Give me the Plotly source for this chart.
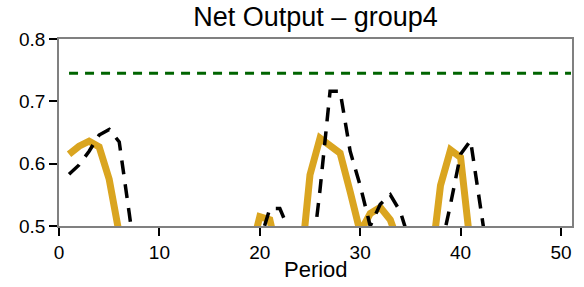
import plotly.graph_objects as go

periods = list(range(1, 51))

actual = [0.615, 0.628, 0.636, 0.627, 0.575, 0.44, 0.40, 0.38, 0.36, 0.35,
          0.34, 0.35, 0.36, 0.37, 0.36, 0.38, 0.39, 0.40, 0.45, 0.515,
          0.51, 0.44, 0.40, 0.42, 0.582, 0.641, 0.630, 0.617, 0.555, 0.49,
          0.52, 0.53, 0.51, 0.46, 0.42, 0.40, 0.43, 0.565, 0.622, 0.61,
          0.465, 0.42, 0.40, 0.38, 0.37, 0.36, 0.35, 0.36, 0.37, 0.38]

forecast = [0.583, 0.598, 0.62, 0.646, 0.655, 0.635, 0.52, 0.40, 0.38, 0.37,
            0.36, 0.36, 0.37, 0.38, 0.38, 0.39, 0.40, 0.41, 0.42, 0.475,
            0.528, 0.528, 0.49, 0.42, 0.42, 0.558, 0.716, 0.716, 0.62, 0.565,
            0.50, 0.535, 0.55, 0.523, 0.47, 0.42, 0.40, 0.46, 0.535, 0.615,
            0.637, 0.51, 0.42, 0.40, 0.39, 0.38, 0.37, 0.37, 0.38, 0.39]

threshold_x = [1, 51]
threshold_y = [0.745, 0.745]

x_ticks = [0, 10, 20, 30, 40, 50]
y_ticks = [0.5, 0.6, 0.7, 0.8]

fig = go.Figure()
fig.add_trace(go.Scatter(x=threshold_x, y=threshold_y, mode="lines",
                         line=dict(color="#006400", width=3, dash="9px,7px"),
                         showlegend=False, hoverinfo="skip"))
fig.add_trace(go.Scatter(x=periods, y=actual, mode="lines",
                         line=dict(color="#DAA520", width=7),
                         showlegend=False))
fig.add_trace(go.Scatter(x=periods, y=forecast, mode="lines",
                         line=dict(color="black", width=3.5, dash="14px,10px"),
                         showlegend=False))

font_family = "Liberation Sans, Arial, sans-serif"
fig.update_layout(
    width=584, height=287,
    margin=dict(l=59, r=12, t=39, b=61, autoexpand=False),
    paper_bgcolor="white", plot_bgcolor="white",
    font=dict(family=font_family, color="black", size=19),
    title=dict(text="Net Output – group4", x=0.5, xref="paper",
               y=1 - 17 / 287, yref="container", yanchor="middle",
               xanchor="center", font=dict(size=27, color="black")),
    annotations=[dict(text="Period", xref="paper", yref="paper", x=0.5,
                      y=-(269 - 226) / 187, xanchor="center", yanchor="middle",
                      showarrow=False, font=dict(size=22, color="black"))],
)
fig.update_xaxes(range=[0, 51.1], tickvals=x_ticks, ticktext=[str(v) for v in x_ticks],
                 showgrid=False, zeroline=False, showline=True, linecolor="#808080",
                 linewidth=1.5, mirror=True, ticks="outside", ticklen=8, tickwidth=1.5,
                 tickcolor="black", tickfont=dict(size=19), automargin=False)
fig.update_yaxes(range=[0.5, 0.8], tickvals=y_ticks, ticktext=[f"{v:.1f}" for v in y_ticks],
                 showgrid=False, zeroline=False, showline=True, linecolor="#808080",
                 linewidth=1.5, mirror=True, ticks="outside", ticklen=8, tickwidth=1.5,
                 tickcolor="black", tickfont=dict(size=19), automargin=False)

fig.write_html("out.html", config={"displayModeBar": False},
               post_script="document.body.style.margin='0';document.body.style.overflow='hidden';")
